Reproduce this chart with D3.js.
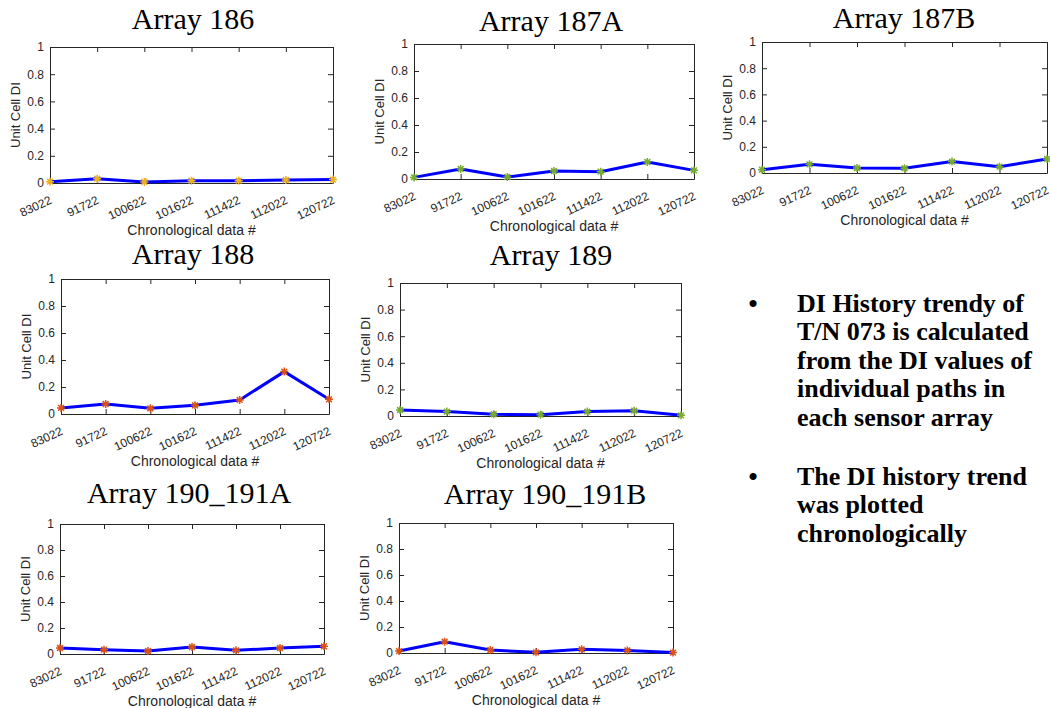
<!DOCTYPE html>
<meta charset="utf-8">
<style>
  body { margin: 0; background: #fff; }
  .title { font-family: "Liberation Serif", "Times New Roman", serif; font-size: 30px; fill: #000; }
  .axis text { font-family: "Liberation Sans", Arial, sans-serif; font-size: 12px; fill: #262626; }
  .axis path, .axis line { stroke: #262626; stroke-width: 1; }
  .lab { font-family: "Liberation Sans", Arial, sans-serif; fill: #262626; }
  .note { font-family: "Liberation Serif", "Times New Roman", serif; font-size: 26px; font-weight: bold; fill: #000; }
</style>
<body>
<script src="https://cdn.jsdelivr.net/npm/d3@7"></script>
<script>
// chronological data # (x categories)
var dates = ["83022", "91722", "100622", "101622", "111422", "112022", "120722"];
var yTicks = [0, 0.2, 0.4, 0.6, 0.8, 1];

// unit cell DI per array
var di186  = [0.010, 0.032, 0.008, 0.017, 0.017, 0.022, 0.025];
var di187A = [0.012, 0.074, 0.015, 0.059, 0.054, 0.126, 0.064];
var di187B = [0.025, 0.066, 0.038, 0.036, 0.087, 0.048, 0.107];
var di188  = [0.045, 0.074, 0.042, 0.064, 0.104, 0.314, 0.109];
var di189  = [0.045, 0.033, 0.013, 0.010, 0.033, 0.040, 0.005];
var di190A = [0.046, 0.033, 0.023, 0.054, 0.028, 0.046, 0.059];
var di190B = [0.015, 0.087, 0.023, 0.005, 0.028, 0.020, 0.003];

var titles = ["Array 186", "Array 187A", "Array 187B", "Array 188", "Array 189", "Array 190_191A", "Array 190_191B"];
var series = [di186, di187A, di187B, di188, di189, di190A, di190B];

var bullet1 = ["DI History trendy of", "T/N 073 is calculated", "from the DI values of", "individual paths in", "each sensor array"];
var bullet2 = ["The DI history trend", "was plotted", "chronologically"];

// layout: plot boxes and title anchors
var boxes = [
  {l: 50,  r: 333,  t: 47,  b: 183, tx: 193, ty: 29,  m: "#EDB120"},
  {l: 414, r: 694,  t: 44,  b: 179, tx: 551, ty: 31,  m: "#77AC30"},
  {l: 762, r: 1047, t: 42,  b: 173, tx: 904, ty: 28,  m: "#77AC30"},
  {l: 61,  r: 329,  t: 279, b: 414, tx: 193, ty: 264, m: "#D95319"},
  {l: 400, r: 681,  t: 283, b: 416, tx: 551, ty: 265, m: "#77AC30"},
  {l: 60,  r: 324,  t: 524, b: 654, tx: 189, ty: 503, m: "#D95319"},
  {l: 399, r: 673,  t: 523, b: 653, tx: 545, ty: 504, m: "#D95319"}
];

var svg = d3.select("body").append("svg")
    .attr("width", 1050)
    .attr("height", 708);

// MATLAB style '*' marker
var mr = 4, md = mr * 0.72;
var star = "M" + (-mr) + ",0H" + mr + "M0," + (-mr) + "V" + mr +
           "M" + (-md) + "," + (-md) + "L" + md + "," + md +
           "M" + (-md) + "," + md + "L" + md + "," + (-md);

boxes.forEach(function(bx, i) {
  var x = d3.scalePoint().domain(dates).range([bx.l, bx.r]);
  var y = d3.scaleLinear().domain([0, 1]).range([bx.b, bx.t]);
  var g = svg.append("g");

  g.append("text").attr("class", "title")
      .attr("x", bx.tx).attr("y", bx.ty)
      .attr("text-anchor", "middle")
      .text(titles[i]);

  g.append("g").attr("class", "axis")
      .attr("transform", "translate(0," + bx.t + ")")
      .call(d3.axisTop(x).tickSize(-5).tickSizeOuter(0).tickFormat(""));
  g.append("g").attr("class", "axis")
      .attr("transform", "translate(" + bx.r + ",0)")
      .call(d3.axisRight(y).tickValues(yTicks).tickSize(-5).tickSizeOuter(0).tickFormat(""));
  g.append("g").attr("class", "axis")
      .attr("transform", "translate(" + bx.l + ",0)")
      .call(d3.axisLeft(y).tickValues(yTicks).tickSize(-5).tickSizeOuter(0)
        .tickPadding(6).tickFormat(d3.format("~g")));
  g.append("g").attr("class", "axis")
      .attr("transform", "translate(0," + bx.b + ")")
      .call(d3.axisBottom(x).tickSize(-5).tickSizeOuter(0))
    .selectAll("text")
      .attr("y", 0).attr("dy", 0)
      .attr("text-anchor", "end")
      .attr("transform", "translate(2,20) rotate(-25)");

  g.append("text").attr("class", "lab")
      .attr("font-size", 13)
      .attr("text-anchor", "middle")
      .attr("transform", "translate(" + (bx.l - 30) + "," + ((bx.t + bx.b) / 2) + ") rotate(-90)")
      .text("Unit Cell DI");
  g.append("text").attr("class", "lab")
      .attr("font-size", 14)
      .attr("text-anchor", "middle")
      .attr("x", (bx.l + bx.r) / 2).attr("y", bx.b + 52)
      .text("Chronological data #");

  var pts = dates.map(function(d, j) { return [d, series[i][j]]; });
  var line = d3.line()
      .x(function(d) { return x(d[0]); })
      .y(function(d) { return y(d[1]); });

  g.append("path").datum(pts)
      .attr("d", line)
      .attr("fill", "none")
      .attr("stroke", "#0000ff")
      .attr("stroke-width", 3)
      .attr("stroke-linejoin", "round");

  g.selectAll(".mk").data(pts).enter().append("path")
      .attr("class", "mk")
      .attr("d", star)
      .attr("transform", function(d) { return "translate(" + x(d[0]) + "," + y(d[1]) + ")"; })
      .attr("fill", "none")
      .attr("stroke", bx.m)
      .attr("stroke-width", 1.5);
});

// bullet notes
var note = svg.append("g");
function bullets(lines, y0) {
  note.append("text").attr("class", "note")
      .attr("x", 753).attr("y", y0).attr("text-anchor", "middle").text("\u2022");
  lines.forEach(function(s, k) {
    note.append("text").attr("class", "note")
        .attr("x", 797).attr("y", y0 + k * 28.4).text(s);
  });
}
bullets(bullet1, 312);
bullets(bullet2, 485);
</script>
</body>
</html>
